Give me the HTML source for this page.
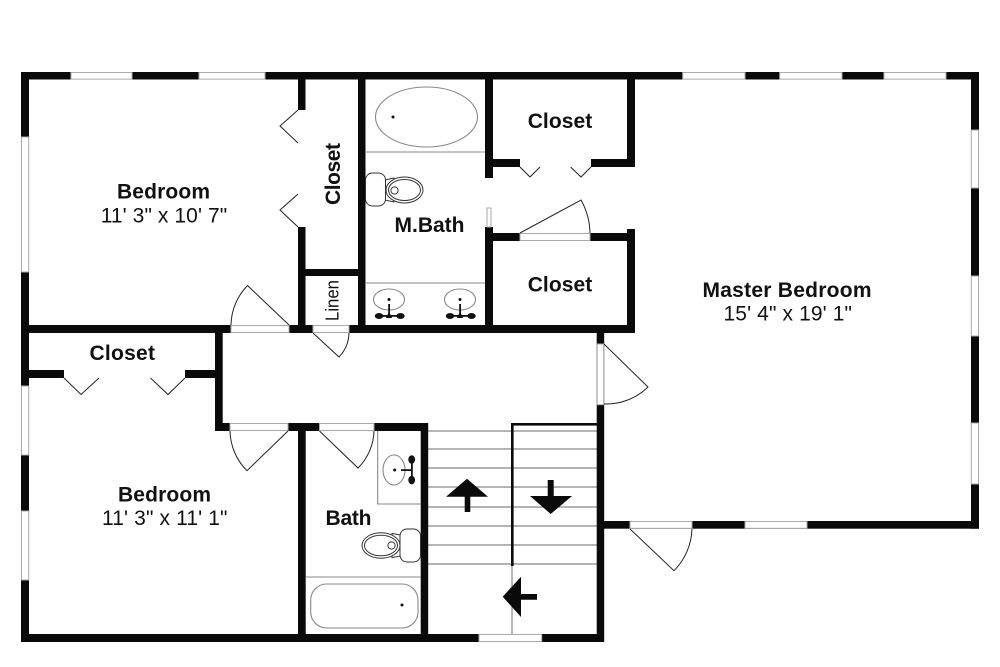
<!DOCTYPE html>
<html>
<head>
<meta charset="utf-8">
<style>
html,body{margin:0;padding:0;background:#fff;width:1000px;height:667px;overflow:hidden}
svg{display:block}
text{font-family:"Liberation Sans",Arial,sans-serif;fill:#111}
.b{font-weight:bold;font-size:21px}
.r{font-size:21px}
.w{fill:#0a0a0a}
.win{fill:#fff;stroke:#aaa;stroke-width:1}
.t{fill:none;stroke:#222;stroke-width:1}
.g{fill:none;stroke:#888;stroke-width:1.1}
.f{fill:#fff;stroke:#333;stroke-width:1}
</style>
</head>
<body>
<svg width="1000" height="667" viewBox="0 0 1000 667" xmlns="http://www.w3.org/2000/svg">
<rect width="1000" height="667" fill="#fff"/>

<!-- Stairs -->
<g stroke="#888" stroke-width="1.2">
<line x1="428" x2="597" y1="431" y2="431"/>
<line x1="428" x2="597" y1="449" y2="449"/>
<line x1="428" x2="597" y1="468" y2="468"/>
<line x1="428" x2="597" y1="487" y2="487"/>
<line x1="428" x2="597" y1="507" y2="507"/>
<line x1="428" x2="597" y1="526" y2="526"/>
<line x1="428" x2="597" y1="545" y2="545"/>
<line x1="428" x2="597" y1="564" y2="564"/>
<line x1="512" x2="512" y1="566" y2="634"/>
</g>
<rect class="w" x="511" y="423" width="2.6" height="143"/>
<rect class="w" x="511" y="423" width="86" height="2.6"/>
<path class="w" d="M467 478.7L488 496.7H470.3V512H464.7V496.7H446Z"/>
<path class="w" d="M547.7 480H553.7V496H572L550.7 514L530 496H547.7Z"/>
<path class="w" d="M502.7 596.7L521 576.7V594H537V599.7H521V617Z"/>

<!-- Walls -->
<g class="w">
<rect x="21" y="72" width="958" height="7.5"/>
<rect x="21" y="72" width="8" height="570"/>
<rect x="971" y="72" width="8" height="456.7"/>
<rect x="21" y="634" width="583" height="8"/>
<rect x="21" y="325" width="614" height="8"/>
<rect x="298" y="72" width="7.5" height="38"/>
<rect x="298" y="227" width="7.5" height="100"/>
<rect x="298" y="269" width="67" height="7"/>
<rect x="358" y="72" width="7.5" height="260"/>
<rect x="485" y="72" width="8" height="106"/>
<rect x="485" y="227" width="8" height="105"/>
<rect x="493" y="159" width="27" height="8"/>
<rect x="591" y="159" width="44" height="8"/>
<rect x="627" y="72" width="8" height="95"/>
<rect x="485" y="233" width="35" height="8"/>
<rect x="590" y="233" width="45" height="8"/>
<rect x="627" y="229" width="8" height="104"/>
<rect x="215" y="326" width="7.7" height="105"/>
<rect x="29" y="370" width="35" height="8"/>
<rect x="185" y="370" width="32" height="8"/>
<rect x="215" y="423" width="213" height="8"/>
<rect x="298" y="423" width="7.7" height="219"/>
<rect x="420.7" y="423" width="7.5" height="219"/>
<rect x="596.7" y="326" width="7.5" height="316"/>
<rect x="600" y="521" width="379" height="7.7"/>
</g>

<!-- Windows and door openings -->
<g class="win">
<rect x="71" y="72.5" width="61" height="6.6"/>
<rect x="199" y="72.5" width="66" height="6.6"/>
<rect x="682.7" y="72.5" width="62.3" height="6.6"/>
<rect x="779.7" y="72.5" width="62.3" height="6.6"/>
<rect x="884" y="72.5" width="62" height="6.6"/>
<rect x="21.5" y="137" width="7.2" height="135"/>
<rect x="21.5" y="386" width="7.2" height="69"/>
<rect x="21.5" y="511" width="7.2" height="69"/>
<rect x="971.3" y="130" width="7.2" height="58"/>
<rect x="971.3" y="276" width="7.2" height="60"/>
<rect x="971.3" y="423" width="7.2" height="61"/>
<rect x="745" y="521.5" width="62" height="6.8"/>
<rect x="630" y="521.5" width="62" height="6.8"/>
<rect x="479" y="634.5" width="62.7" height="7"/>
<rect x="231" y="325.5" width="58" height="7"/>
<rect x="313" y="325.5" width="36" height="7"/>
<rect x="520" y="233.5" width="70" height="7"/>
<rect x="230" y="423.5" width="58" height="7"/>
<rect x="319.5" y="423.5" width="54.5" height="7"/>
<rect x="597.2" y="344" width="6.5" height="60.7"/>
<rect x="487" y="208" width="4" height="19"/>
</g>

<!-- Doors -->
<g class="t">
<path d="M298 110L280 126L298 143"/>
<path d="M298 194L280 210L298 227"/>
<path d="M289 325L247.5 285.5A58 58 0 0 0 231 325"/>
<path d="M313 333L339 357A36 36 0 0 0 349 333"/>
<path d="M520 167L530 177L540 167"/>
<path d="M591 167L581 177L570.6 167"/>
<path d="M520 233L581 200A70 70 0 0 1 590 233"/>
<path d="M64 378L81 394.5L99 378"/>
<path d="M185 378L168 394.5L150.5 378"/>
<path d="M288 431L247 470.7A58 58 0 0 1 230 431"/>
<path d="M319.5 431L358 468A54.5 54.5 0 0 0 374 431"/>
<path d="M604 344L648 387A60 60 0 0 1 604 404"/>
<path d="M630 529L674 570.7A62 62 0 0 0 692 529"/>
</g>

<!-- M.Bath fixtures -->
<ellipse class="g" cx="426.5" cy="117" rx="51" ry="30"/>
<circle cx="393" cy="117" r="1.5" fill="#111"/>
<line class="g" x1="365" x2="485" y1="152" y2="152"/>
<line class="g" x1="365" x2="485" y1="283" y2="283"/>
<path class="f" d="M385 180L394 178V202L385 200Z"/>
<ellipse class="f" cx="404.5" cy="190" rx="18.5" ry="13"/>
<ellipse class="f" cx="404.5" cy="190" rx="16" ry="10.5"/>
<circle class="f" cx="394.5" cy="190.5" r="3.6"/>
<rect class="f" x="365.5" y="173" width="20" height="33" rx="7"/>

<g>
<ellipse class="g" cx="389" cy="299.5" rx="15.5" ry="10.5"/>
<circle cx="389" cy="299.5" r="1.5" fill="#111"/>
<rect x="388.2" y="304" width="1.8" height="12" fill="#111"/>
<rect x="379" y="315" width="22" height="1.8" fill="#111"/>
<ellipse cx="379" cy="316" rx="4.2" ry="3" fill="#111"/>
<ellipse cx="400.5" cy="316" rx="4.2" ry="3" fill="#111"/>
<path fill="#111" d="M389 312l3.2 6h-6.4z"/>
</g>
<g transform="translate(71 0)">
<ellipse class="g" cx="389" cy="299.5" rx="15.5" ry="10.5"/>
<circle cx="389" cy="299.5" r="1.5" fill="#111"/>
<rect x="388.2" y="304" width="1.8" height="12" fill="#111"/>
<rect x="379" y="315" width="22" height="1.8" fill="#111"/>
<ellipse cx="379" cy="316" rx="4.2" ry="3" fill="#111"/>
<ellipse cx="400.5" cy="316" rx="4.2" ry="3" fill="#111"/>
<path fill="#111" d="M389 312l3.2 6h-6.4z"/>
</g>

<!-- Bath fixtures -->
<path class="g" d="M377.7 431V504H421"/>
<ellipse class="g" cx="394" cy="470" rx="11" ry="15"/>
<circle cx="394.7" cy="470" r="1.5" fill="#111"/>
<rect x="401" y="469.2" width="11" height="1.8" fill="#111"/>
<rect x="411" y="462" width="1.8" height="16" fill="#111"/>
<ellipse cx="411.7" cy="459.5" rx="3.4" ry="4.3" fill="#111"/>
<ellipse cx="411.7" cy="480" rx="3.4" ry="4.3" fill="#111"/>
<path class="f" d="M401 535L392 533.5V557.5L401 556Z"/>
<ellipse class="f" cx="381" cy="545.5" rx="19" ry="12.7"/>
<ellipse class="f" cx="381" cy="545.5" rx="16.5" ry="10.3"/>
<circle class="f" cx="391.5" cy="545.5" r="3.6"/>
<rect class="f" x="400" y="529" width="20.5" height="33" rx="7"/>
<line class="g" x1="305.7" x2="421" y1="577" y2="577"/>
<rect class="g" x="310.7" y="584" width="107.3" height="44" rx="16"/>
<circle cx="402" cy="605" r="1.5" fill="#111"/>

<!-- Labels -->
<text class="b" x="117" y="198.7" textLength="93" lengthAdjust="spacing">Bedroom</text>
<text class="r" x="100.7" y="222.7" textLength="126.5" lengthAdjust="spacing">11' 3" x 10' 7"</text>
<text class="b" transform="translate(340 205) rotate(-90)" textLength="62" lengthAdjust="spacing">Closet</text>
<text transform="translate(338.5 321) rotate(-90)" font-size="18" textLength="41" lengthAdjust="spacingAndGlyphs">Linen</text>
<text class="b" x="527.7" y="128" textLength="64.5" lengthAdjust="spacing">Closet</text>
<text class="b" x="527.7" y="291.7" textLength="64.5" lengthAdjust="spacing">Closet</text>
<text class="b" x="394.5" y="232" textLength="70" lengthAdjust="spacing">M.Bath</text>
<text class="b" x="89.5" y="360" textLength="65.5" lengthAdjust="spacing">Closet</text>
<text class="b" x="118" y="501.7" textLength="93" lengthAdjust="spacing">Bedroom</text>
<text class="r" x="102" y="525" textLength="125.5" lengthAdjust="spacing">11' 3" x 11' 1"</text>
<text class="b" x="325.5" y="525" textLength="46" lengthAdjust="spacing">Bath</text>
<text class="b" x="702.5" y="297" textLength="169" lengthAdjust="spacing">Master Bedroom</text>
<text class="r" x="723.5" y="320.7" textLength="128.5" lengthAdjust="spacing">15' 4" x 19' 1"</text>
</svg>
</body>
</html>
